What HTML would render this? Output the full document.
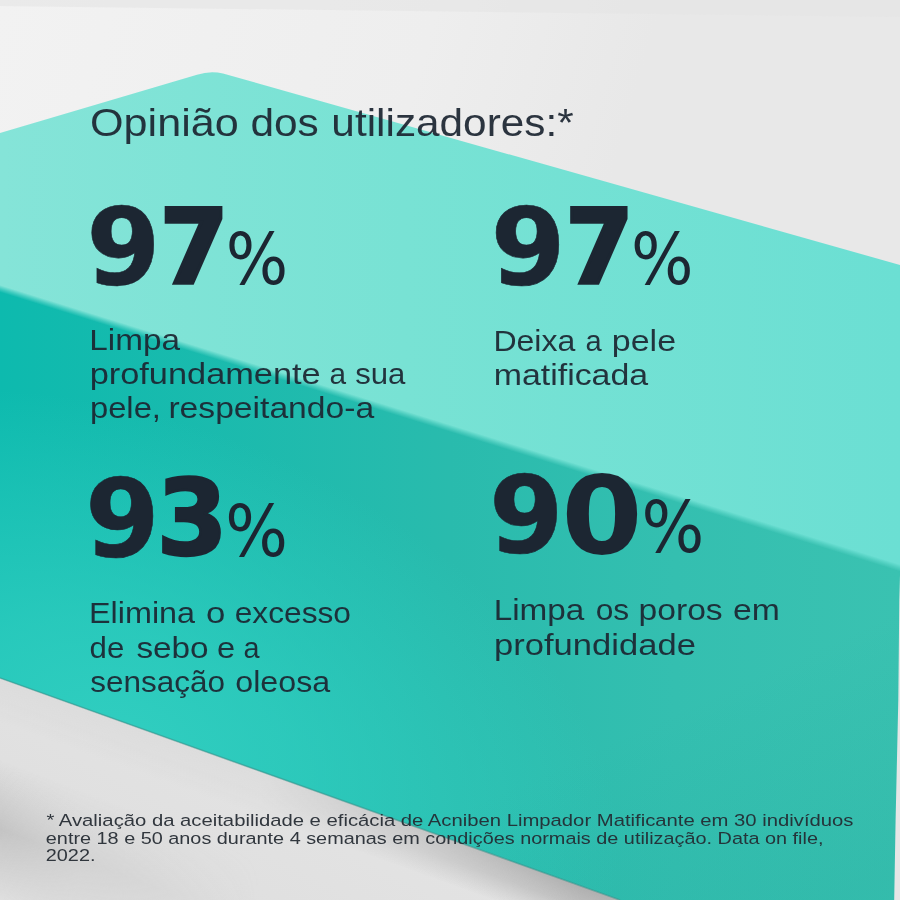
<!DOCTYPE html>
<html lang="pt">
<head>
<meta charset="utf-8">
<title>Opinião dos utilizadores</title>
<style>
  html, body { margin: 0; padding: 0; background: #ececec; }
  body { width: 900px; height: 900px; overflow: hidden; position: relative; }
  svg { position: absolute; left: 0; top: 0; display: block; }
  text { font-family: "Liberation Sans", sans-serif; fill: #1c2632; }
  .n { font-family: "DejaVu Sans", "Liberation Sans", sans-serif; font-size: 110px; }
  .b { font-weight: bold; stroke: #1c2632; stroke-width: 0; stroke-linejoin: miter; }
  .p { font-weight: normal; }
  .l { font-size: 30.0px; fill-opacity: 0.93; }
  .t { font-size: 39.0px; fill-opacity: 0.93; }
  .f { font-size: 17.4px; fill: #232a32; fill-opacity: 0.93; }
</style>
</head>
<body>
<svg width="900" height="900" viewBox="0 0 900 900">
  <defs>
    <linearGradient id="gbg" gradientUnits="userSpaceOnUse" x1="0" y1="0" x2="900" y2="260">
      <stop offset="0" stop-color="#f2f2f2"/>
      <stop offset="0.45" stop-color="#eeeeee"/>
      <stop offset="0.68" stop-color="#e8e8e8"/>
      <stop offset="1" stop-color="#e8e8e8"/>
    </linearGradient>
    <linearGradient id="gfloor" gradientUnits="userSpaceOnUse" x1="300" y1="700" x2="200" y2="900">
      <stop offset="0" stop-color="#e5e5e5"/>
      <stop offset="1" stop-color="#dfdfdf"/>
    </linearGradient>
    <linearGradient id="gtop" gradientUnits="userSpaceOnUse" x1="0" y1="0" x2="900" y2="0">
      <stop offset="0" stop-color="#85e4d8"/>
      <stop offset="0.45" stop-color="#78e2d4"/>
      <stop offset="1" stop-color="#6bdfd3"/>
    </linearGradient>
    <linearGradient id="gfront" gradientUnits="userSpaceOnUse" x1="0" y1="0" x2="900" y2="0">
      <stop offset="0" stop-color="#0dbaae"/>
      <stop offset="0.5" stop-color="#29bbad"/>
      <stop offset="0.75" stop-color="#34bfb0"/>
      <stop offset="1" stop-color="#3ac2b1"/>
    </linearGradient>
    <radialGradient id="gglow" gradientUnits="userSpaceOnUse" cx="120" cy="740" r="520" gradientTransform="translate(120 740) rotate(20) scale(1 0.62) translate(-120 -740)">
      <stop offset="0" stop-color="#32cfc1" stop-opacity="0.95"/>
      <stop offset="0.35" stop-color="#32cfc1" stop-opacity="0.7"/>
      <stop offset="1" stop-color="#33d0c2" stop-opacity="0"/>
    </radialGradient>
    <linearGradient id="gband" gradientUnits="userSpaceOnUse" x1="22" y1="768" x2="-24" y2="890">
      <stop offset="0" stop-color="#bdbdbd" stop-opacity="0"/>
      <stop offset="0.5" stop-color="#bdbdbd" stop-opacity="0.8"/>
      <stop offset="1" stop-color="#bdbdbd" stop-opacity="0"/>
    </linearGradient>
    <linearGradient id="gbandfade" gradientUnits="userSpaceOnUse" x1="0" y1="0" x2="260" y2="0">
      <stop offset="0" stop-color="#fff" stop-opacity="1"/>
      <stop offset="0.3" stop-color="#fff" stop-opacity="0.45"/>
      <stop offset="1" stop-color="#fff" stop-opacity="0"/>
    </linearGradient>
    <mask id="mband"><rect x="0" y="700" width="300" height="200" fill="url(#gbandfade)"/></mask>
    <linearGradient id="gedge" gradientUnits="userSpaceOnUse" x1="0" y1="678" x2="-14.2" y2="717.5">
      <stop offset="0" stop-color="#b0b0b0" stop-opacity="1"/>
      <stop offset="0.45" stop-color="#b0b0b0" stop-opacity="0.7"/>
      <stop offset="1" stop-color="#b0b0b0" stop-opacity="0"/>
    </linearGradient>
    <linearGradient id="gedgefade" gradientUnits="userSpaceOnUse" x1="260" y1="0" x2="580" y2="0">
      <stop offset="0" stop-color="#fff" stop-opacity="0.1"/>
      <stop offset="1" stop-color="#fff" stop-opacity="1"/>
    </linearGradient>
    <mask id="medge"><rect x="0" y="600" width="900" height="300" fill="url(#gedgefade)"/></mask>
    <linearGradient id="gsoft" gradientUnits="userSpaceOnUse" x1="0.15" y1="285" x2="-1.93" y2="291.7">
      <stop offset="0" stop-color="#fff"/>
      <stop offset="0.5" stop-color="#777"/>
      <stop offset="1" stop-color="#000"/>
    </linearGradient>
    <mask id="mtop" maskUnits="userSpaceOnUse" x="0" y="0" width="900" height="900"><rect x="0" y="0" width="900" height="900" fill="url(#gsoft)"/></mask>
    <linearGradient id="gdark" gradientUnits="userSpaceOnUse" x1="740" y1="680" x2="840" y2="900">
      <stop offset="0" stop-color="#0a8f86" stop-opacity="0"/>
      <stop offset="1" stop-color="#0a8f86" stop-opacity="0.12"/>
    </linearGradient>
  </defs>
  <!-- backdrop -->
  <rect x="0" y="0" width="900" height="900" fill="url(#gbg)"/>
  <polygon points="0,0 900,0 900,17 0,6" fill="#e5e5e5" fill-opacity="0.65"/>
  <!-- floor below block -->
  <polygon points="0,678 620,900 0,900" fill="url(#gfloor)"/>
  <g mask="url(#mband)"><rect x="0" y="700" width="300" height="200" fill="url(#gband)"/></g>
  <g mask="url(#medge)"><polygon points="0,678 620,900 470,900 0,730" fill="url(#gedge)"/></g>
  <!-- front face -->
  <polygon points="0,200 900,450 900,900 620,900 0,678" fill="url(#gfront)"/>
  <polygon points="0,200 900,450 900,900 620,900 0,678" fill="url(#gglow)"/>
  <polygon points="0,200 900,450 900,900 620,900 0,678" fill="url(#gdark)"/>
  <line x1="0" y1="678" x2="620" y2="900" stroke="#3b8f88" stroke-opacity="0.55" stroke-width="1.6"/>
  <!-- top face -->
  <path d="M0,133 L197,74.8 Q210,70.4 223,73.5 L900,265 L900,580 L0,300 Z" fill="url(#gtop)" mask="url(#mtop)"/>
  <!-- right sliver -->
  <polygon points="900,575 899.3,600 898.3,700 895.6,820 894.2,900 900,900" fill="#e6e6e6"/>

  <text class="n"><tspan class="b" style="font-size:106.82px;stroke-width:0.6px;" x="86.15" y="284.35" textLength="74.33" lengthAdjust="spacingAndGlyphs">9</tspan><tspan class="b" style="font-size:103.2px;stroke-width:3.5px;" x="159.70" y="283.25" textLength="68.9" lengthAdjust="spacingAndGlyphs">7</tspan><tspan class="p" style="font-size:70.56px;" x="225.70" y="284.30" textLength="62.48" lengthAdjust="spacingAndGlyphs">%</tspan></text>
  <text class="n"><tspan class="b" style="font-size:107.48px;stroke-width:0.6px;" x="490.55" y="284.25" textLength="75.2" lengthAdjust="spacingAndGlyphs">9</tspan><tspan class="b" style="font-size:102.81px;stroke-width:3.5px;" x="565.25" y="282.65" textLength="68.45" lengthAdjust="spacingAndGlyphs">7</tspan><tspan class="p" style="font-size:70.56px;" x="631.00" y="283.60" textLength="62.54" lengthAdjust="spacingAndGlyphs">%</tspan></text>
  <text class="n"><tspan class="b" style="font-size:107.93px;stroke-width:0.6px;" x="85.05" y="556.25" textLength="74.8" lengthAdjust="spacingAndGlyphs">9</tspan><tspan class="b" style="font-size:104.73px;stroke-width:2.5px;" x="156.50" y="555.25" textLength="71.3" lengthAdjust="spacingAndGlyphs">3</tspan><tspan class="p" style="font-size:70.43px;" x="225.20" y="555.70" textLength="62.69" lengthAdjust="spacingAndGlyphs">%</tspan></text>
  <text class="n"><tspan class="b" style="font-size:107.28px;stroke-width:0.6px;" x="488.95" y="552.25" textLength="74.59" lengthAdjust="spacingAndGlyphs">9</tspan><tspan class="b" style="font-size:107.99px;" x="561.20" y="552.50" textLength="81.44" lengthAdjust="spacingAndGlyphs">0</tspan><tspan class="p" style="font-size:70.56px;" x="641.50" y="552.30" textLength="62.77" lengthAdjust="spacingAndGlyphs">%</tspan></text>
  <text class="t" y="135.70"><tspan x="90.05" textLength="148.69" lengthAdjust="spacingAndGlyphs">Opinião</tspan> <tspan x="250.45" textLength="68.33" lengthAdjust="spacingAndGlyphs">dos</tspan> <tspan x="331.38" textLength="242.29" lengthAdjust="spacingAndGlyphs">utilizadores:*</tspan></text>
  <text class="l" y="350.00"><tspan x="89.35" textLength="90.73" lengthAdjust="spacingAndGlyphs">Limpa</tspan></text>
  <text class="l" y="384.30"><tspan x="89.65" textLength="231.09" lengthAdjust="spacingAndGlyphs">profundamente</tspan> <tspan x="329.38" textLength="16.58" lengthAdjust="spacingAndGlyphs">a</tspan> <tspan x="355.18" textLength="50.2" lengthAdjust="spacingAndGlyphs">sua</tspan></text>
  <text class="l" y="418.40"><tspan x="89.92" textLength="71.08" lengthAdjust="spacingAndGlyphs">pele,</tspan> <tspan x="168.40" textLength="205.8" lengthAdjust="spacingAndGlyphs">respeitando-a</tspan></text>
  <text class="l" y="350.80"><tspan x="493.40" textLength="81.92" lengthAdjust="spacingAndGlyphs">Deixa</tspan> <tspan x="585.60" textLength="16.19" lengthAdjust="spacingAndGlyphs">a</tspan> <tspan x="611.80" textLength="64.25" lengthAdjust="spacingAndGlyphs">pele</tspan></text>
  <text class="l" y="385.00"><tspan x="493.73" textLength="154.44" lengthAdjust="spacingAndGlyphs">matificada</tspan></text>
  <text class="l" y="623.00"><tspan x="89.00" textLength="106.05" lengthAdjust="spacingAndGlyphs">Elimina</tspan> <tspan x="206.00" textLength="19.32" lengthAdjust="spacingAndGlyphs">o</tspan> <tspan x="234.68" textLength="116.3" lengthAdjust="spacingAndGlyphs">excesso</tspan></text>
  <text class="l" y="657.50"><tspan x="89.62" textLength="34.73" lengthAdjust="spacingAndGlyphs">de</tspan> <tspan x="136.40" textLength="72.28" lengthAdjust="spacingAndGlyphs">sebo</tspan> <tspan x="217.05" textLength="18.15" lengthAdjust="spacingAndGlyphs">e</tspan> <tspan x="243.47" textLength="16.02" lengthAdjust="spacingAndGlyphs">a</tspan></text>
  <text class="l" y="692.20"><tspan x="90.15" textLength="134.82" lengthAdjust="spacingAndGlyphs">sensação</tspan> <tspan x="235.23" textLength="94.94" lengthAdjust="spacingAndGlyphs">oleosa</tspan></text>
  <text class="l" y="620.40"><tspan x="493.65" textLength="90.73" lengthAdjust="spacingAndGlyphs">Limpa</tspan> <tspan x="595.73" textLength="33.51" lengthAdjust="spacingAndGlyphs">os</tspan> <tspan x="638.48" textLength="84.22" lengthAdjust="spacingAndGlyphs">poros</tspan> <tspan x="732.92" textLength="46.87" lengthAdjust="spacingAndGlyphs">em</tspan></text>
  <text class="l" y="654.50"><tspan x="494.02" textLength="201.92" lengthAdjust="spacingAndGlyphs">profundidade</tspan></text>
  <text class="f" y="826.20"><tspan x="46.45" textLength="807.06" lengthAdjust="spacingAndGlyphs">* Avaliação da aceitabilidade e eficácia de Acniben Limpador Matificante em 30 indivíduos</tspan></text>
  <text class="f" y="843.60"><tspan x="45.83" textLength="777.67" lengthAdjust="spacingAndGlyphs">entre 18 e 50 anos durante 4 semanas em condições normais de utilização. Data on file,</tspan></text>
  <text class="f" y="861.20"><tspan x="45.75" textLength="49.71" lengthAdjust="spacingAndGlyphs">2022.</tspan></text>
</svg>
</body>
</html>
